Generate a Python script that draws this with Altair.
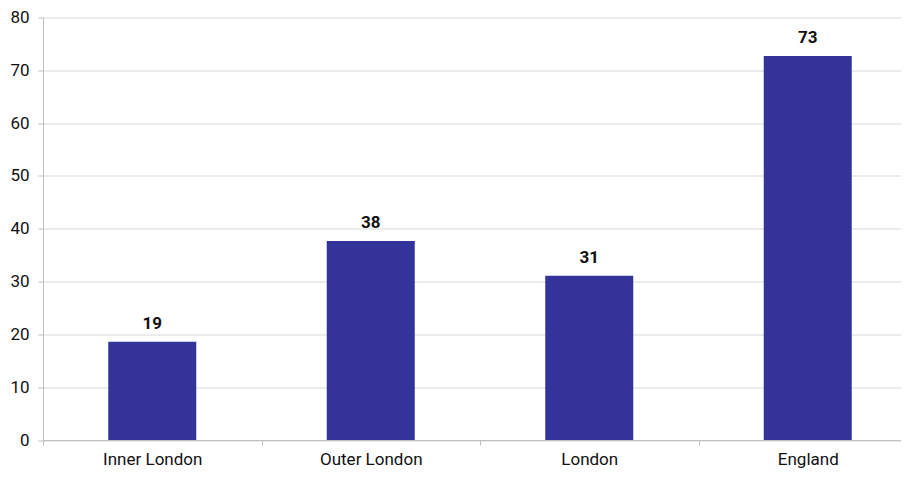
import altair as alt
import pandas as pd

categories = ["Inner London", "Outer London", "London", "England"]
values = [18.6, 37.7, 31.1, 72.7]

df = pd.DataFrame({"area": categories, "value": values})
df["pos"] = [i + 0.5 for i in range(len(categories))]

FONT = "Roboto"
PLOT_W = 858
# visible fraction of the category axis (last band is cropped at the right edge)
x_max = PLOT_W / 218.5

names_js = "[" + ",".join("'" + c + "'" for c in categories) + "]"
tick_values = [i * 0.5 for i in range(2 * len(categories))]

base = alt.Chart(df).encode(
    x=alt.X(
        "pos:Q",
        scale=alt.Scale(domain=[0, x_max], nice=False, zero=False, padding=0),
        axis=alt.Axis(
            title=None,
            values=tick_values,
            grid=False,
            tickSize=5,
            tickColor="#bfbfbf",
            tickOpacity={"condition": {"test": "datum.value % 1 !== 0", "value": 0}, "value": 1},
            domainColor="#bfbfbf",
            labelExpr=f"datum.value % 1 !== 0 ? {names_js}[floor(datum.value)] : ''",
            labelFont=FONT,
            labelFontSize=17,
            labelColor="#111111",
            labelPadding=6,
            labelBaseline="top",
            labelFlush=False,
            labelOverlap=False,
        ),
    ),
    y=alt.Y(
        "value:Q",
        scale=alt.Scale(domain=[0, 80], nice=False, padding=0),
        axis=alt.Axis(
            title=None,
            values=[0, 10, 20, 30, 40, 50, 60, 70, 80],
            tickSize=5,
            tickColor="#bfbfbf",
            domainColor="#bfbfbf",
            gridColor="#d9d9d9",
            labelFont=FONT,
            labelFontSize=17,
            labelColor="#111111",
            labelPadding=9,
        ),
    ),
)

bars = base.mark_bar(color="#333399", size=88)
labels = base.mark_text(
    dy=-13, baseline="alphabetic", font=FONT, fontSize=17, fontWeight="bold", color="#111111"
).encode(text=alt.Text("value:Q", format=".0f"))

chart = (
    (bars + labels)
    .properties(
        width=PLOT_W,
        height=422.5,
        autosize=alt.AutoSizeParams(type="none"),
        padding={"left": 35, "top": 9.5, "right": 0, "bottom": 29},
    )
    .configure_view(stroke=None)
    .configure_axis(gridWidth=1, domainWidth=1)
)

chart.save("out.html", embed_options={"renderer": "svg", "actions": False})
